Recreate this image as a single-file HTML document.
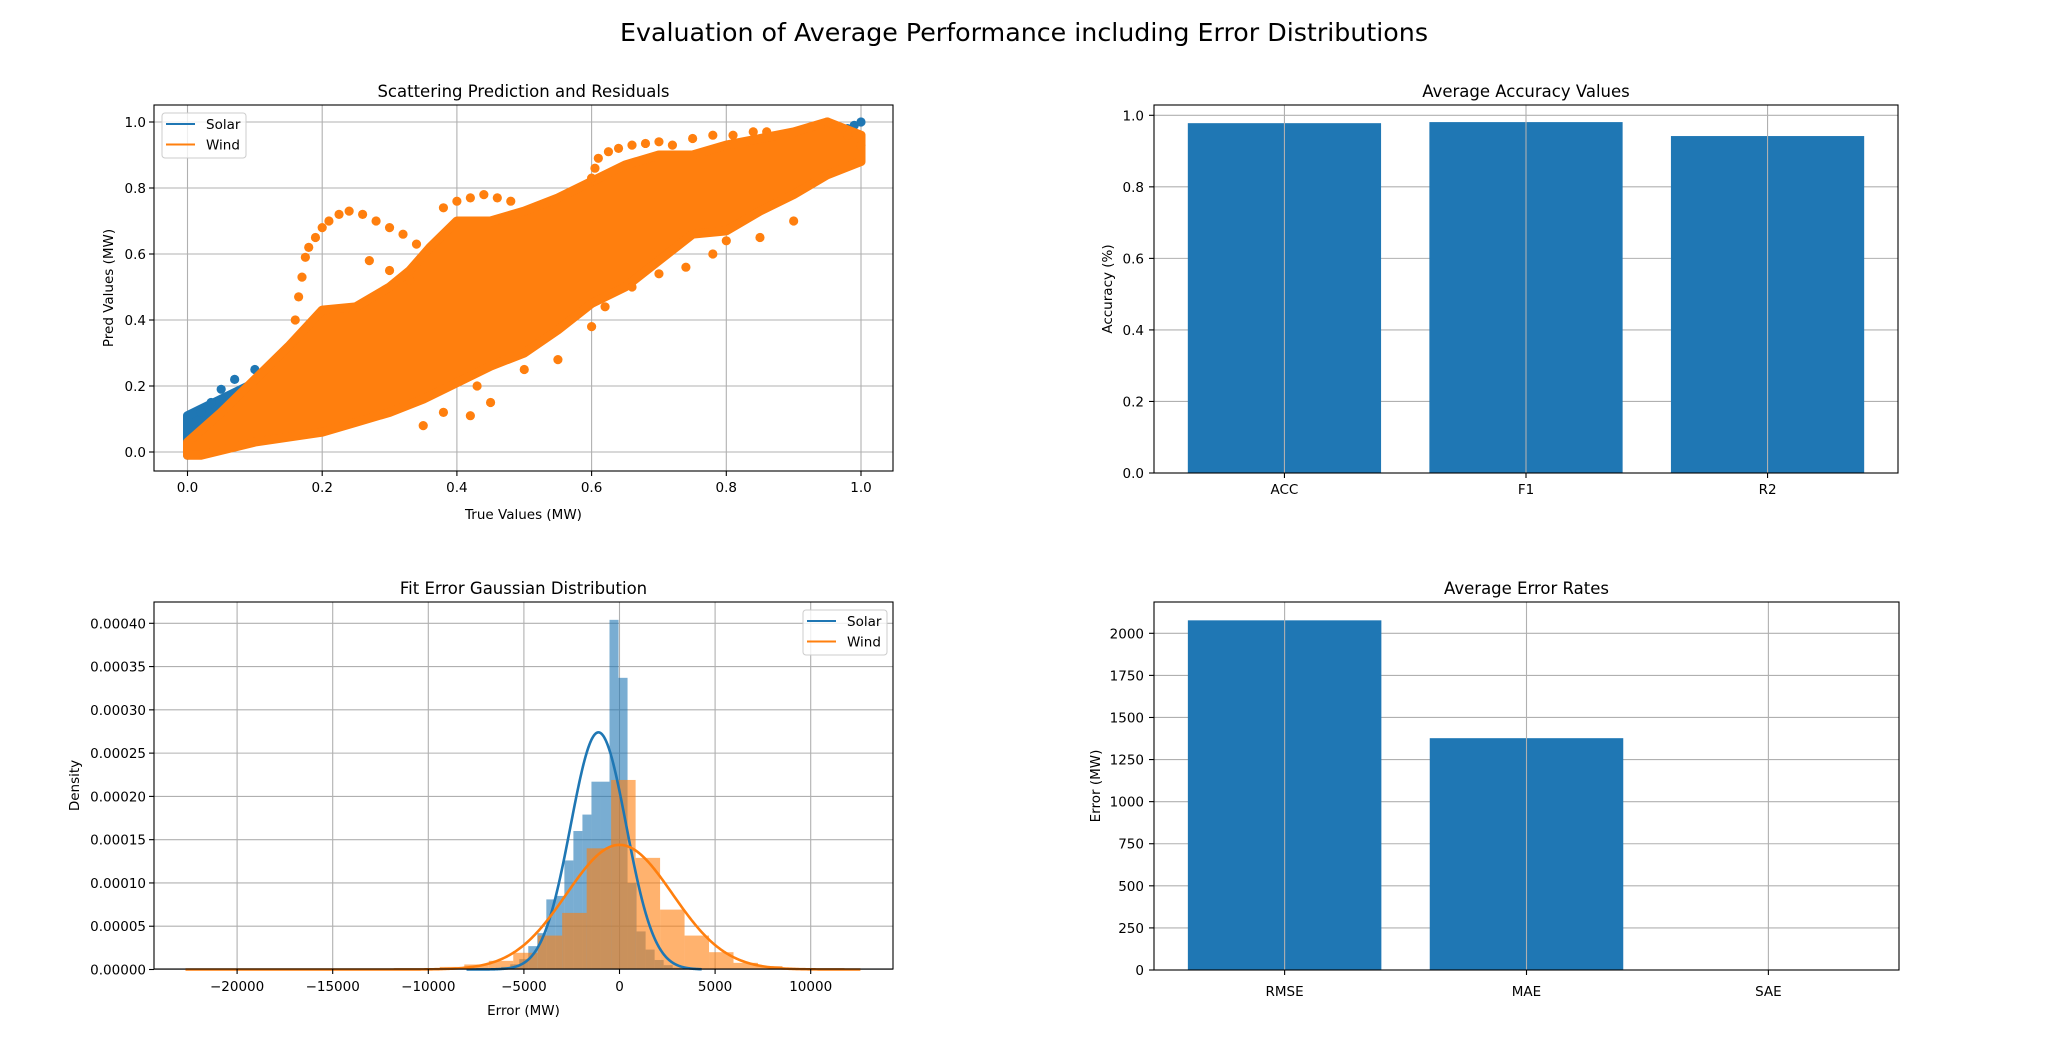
<!DOCTYPE html>
<html><head><meta charset="utf-8">
<style>
html,body{margin:0;padding:0;background:#fff;}
svg text{font-family:"DejaVu Sans","Liberation Sans",sans-serif;fill:#000;}
</style></head>
<body>
<svg id="fig" width="2048" height="1049" viewBox="0 0 2048 1049" xmlns="http://www.w3.org/2000/svg">
<rect width="2048" height="1049" fill="#fff"/>
<text x="1024" y="41" font-size="25" text-anchor="middle" textLength="808" lengthAdjust="spacingAndGlyphs">Evaluation of Average Performance including Error Distributions</text>
</svg>
<script>
// ---------- DATA ----------
const scatterTicks=[0,0.2,0.4,0.6,0.8,1.0];
const scatterTickLabels=["0.0","0.2","0.4","0.6","0.8","1.0"];
const windBandX=[0,0.05,0.1,0.15,0.2,0.25,0.3,0.33,0.36,0.4,0.45,0.5,0.55,0.6,0.65,0.7,0.75,0.8,0.85,0.9,0.95,1,1,0.95,0.9,0.85,0.8,0.75,0.7,0.65,0.6,0.55,0.5,0.45,0.4,0.35,0.3,0.25,0.2,0.1,0.02,0];
const windBandY=[0.03,0.12,0.22,0.32,0.43,0.44,0.5,0.55,0.62,0.7,0.7,0.73,0.77,0.82,0.87,0.9,0.9,0.93,0.95,0.97,1.0,0.96,0.88,0.84,0.78,0.73,0.67,0.66,0.58,0.5,0.45,0.37,0.3,0.26,0.21,0.16,0.12,0.09,0.06,0.03,-0.01,-0.01];
const windPtsX=[0.16,0.165,0.17,0.175,0.18,0.19,0.2,0.21,0.225,0.24,0.26,0.28,0.3,0.32,0.34,0.6,0.605,0.61,0.625,0.64,0.66,0.68,0.7,0.72,0.75,0.78,0.81,0.84,0.86,0.38,0.4,0.42,0.44,0.46,0.48,0.45,0.42,0.38,0.35,0.43,0.5,0.55,0.6,0.62,0.66,0.7,0.74,0.78,0.8,0.85,0.9,0.95,0.98,1.0,0.27,0.3,0.33];
const windPtsY=[0.40,0.47,0.53,0.59,0.62,0.65,0.68,0.70,0.72,0.73,0.72,0.70,0.68,0.66,0.63,0.83,0.86,0.89,0.91,0.92,0.93,0.935,0.94,0.93,0.95,0.96,0.96,0.97,0.97,0.74,0.76,0.77,0.78,0.77,0.76,0.15,0.11,0.12,0.08,0.2,0.25,0.28,0.38,0.44,0.5,0.54,0.56,0.6,0.64,0.65,0.7,1.0,0.96,0.93,0.58,0.55,0.52];
const solarBandX=[0,0.02,0.05,0.09,0.09,0.05,0.02,0];
const solarBandY=[0.11,0.13,0.16,0.2,0.13,0.06,0.02,-0.01];
const solarPtsX=[0.02,0.035,0.05,0.07,0.1,0.0,1.0,0.99,0.98,0.96,0.94,0.92];
const solarPtsY=[0.12,0.15,0.19,0.22,0.25,0.0,1.0,0.99,0.98,0.96,0.95,0.94];

const accCats=["ACC","F1","R2"];
const accVals=[0.978,0.981,0.942];
const accTicks=[0,0.2,0.4,0.6,0.8,1.0];
const accTickLabels=["0.0","0.2","0.4","0.6","0.8","1.0"];

const errCats=["RMSE","MAE","SAE"];
const errVals=[2077,1377,0];
const errTicks=[0,250,500,750,1000,1250,1500,1750,2000];

const histXTicks=[-20000,-15000,-10000,-5000,0,5000,10000];
const histXTickLabels=["\u221220000","\u221215000","\u221210000","\u22125000","0","5000","10000"];
const histYTicks=[0,0.00005,0.0001,0.00015,0.0002,0.00025,0.0003,0.00035,0.0004];
const histYTickLabels=["0.00000","0.00005","0.00010","0.00015","0.00020","0.00025","0.00030","0.00035","0.00040"];
const solarBinStart=-6187;
const solarBinWidth=472;
const solarDensity=[0.000003,0.000006,0.000012,0.000027,0.000042,0.000081,0.000085,0.000126,0.00016,0.000179,0.000217,0.000217,0.000404,0.000337,0.0001,0.000044,0.000023,0.000011,0.000005,0.000002];
const windBinStart=-22197;
const windBinWidth=1280;
const windDensity=[0.0000004,0.0000004,0.0000004,0.0000004,0.0000004,0.0000004,0.0000004,0.0000004,0.0000004,0.000001,0.000003,0.0000058,0.00001,0.0000193,0.0000392,0.0000654,0.00014,0.000219,0.000129,0.0000692,0.0000392,0.00002,0.0000077,0.000004,0.0000015,0.0000008,0.0000003];
const solarMu=-1100, solarSigma=1456, solarFitMin=-8000, solarFitMax=4300;
const windMu=0, windSigma=2770, windFitMin=-22700, windFitMax=12600;

// ---------- HELPERS ----------
const NS="http://www.w3.org/2000/svg";
const svg=document.getElementById('fig');
function mk(tag,attrs,parent){const e=document.createElementNS(NS,tag);for(const k in attrs)e.setAttribute(k,attrs[k]);(parent||svg).appendChild(e);return e;}
function txt(s,attrs,parent){const e=mk('text',attrs,parent);e.textContent=s;return e;}
const BLUE="#1f77b4", ORANGE="#ff7f0e", GRID="#b0b0b0";
function lin(d0,d1,p0,p1){return v=>p0+(v-d0)*(p1-p0)/(d1-d0);}

function axesFrame(g,L,T,R,B){
  const f=mk('rect',{x:L,y:T,width:R-L,height:B-T,fill:'none',stroke:'#000','stroke-width':1.1},g);
  
  
}
function xGrid(g,xs,T,B){xs.forEach(x=>{const l=mk('line',{x1:x,x2:x,y1:T,y2:B,stroke:GRID,'stroke-width':1.1},g);});}
function yGrid(g,ys,L,R){ys.forEach(y=>{const l=mk('line',{x1:L,x2:R,y1:y,y2:y,stroke:GRID,'stroke-width':1.1},g);});}
function xTicks(g,xs,labels,B,ly){xs.forEach((x,i)=>{mk('line',{x1:x,x2:x,y1:B,y2:B+5,stroke:'#000','stroke-width':1.1},g);const t=txt(labels[i],{x:x,y:ly,'font-size':13.5,'text-anchor':'middle'},g);});}
function yTicks(g,ys,labels,L,rx){ys.forEach((y,i)=>{mk('line',{x1:L-5,x2:L,y1:y,y2:y,stroke:'#000','stroke-width':1.1},g);const t=txt(labels[i],{x:rx,y:y+5,'font-size':13.5,'text-anchor':'end'},g);});}
function title(g,s,cx,y){const t=txt(s,{x:cx,y:y,'font-size':16.5,'text-anchor':'middle'},g);}
function xlabel(g,s,cx,y){const t=txt(s,{x:cx,y:y,'font-size':13.5,'text-anchor':'middle'},g);}
function ylabel(g,s,x,cy){const t=txt(s,{x:x,y:cy,'font-size':13.5,'text-anchor':'middle',transform:`rotate(-90 ${x} ${cy})`},g);}
function legend(g,L,T){
  const r=mk('rect',{x:L,y:T,width:84,height:45,rx:3,fill:'#fff','fill-opacity':0.8,stroke:'#ccc','stroke-width':1},g);
  
  [["Solar",BLUE],["Wind",ORANGE]].forEach((e,i)=>{
    const eg=mk('g',{},g);
    
    
    const y=T+11+i*20.5;
    mk('line',{x1:L+4,x2:L+33,y1:y,y2:y,stroke:e[1],'stroke-width':2.1},eg);
    txt(e[0],{x:L+44,y:y+5,'font-size':13.5},eg);
  });
}

// ---------- SCATTER (top-left) ----------
(function(){
  const g=mk('g',{});
  const L=154,R=893,T=105,B=471;
  const X=lin(0,1,187.5,861), Y=lin(0,1,452,122);
  xGrid(g,scatterTicks.map(X),T,B); yGrid(g,scatterTicks.map(Y),L,R);
  const clip=mk('clipPath',{id:'c1'},g);mk('rect',{x:L,y:T,width:R-L,height:B-T},clip);
  const pg=mk('g',{'clip-path':'url(#c1)'},g);
  const sb=mk('polygon',{points:solarBandX.map((x,i)=>X(x)+','+Y(solarBandY[i])).join(' '),fill:BLUE,stroke:BLUE,'stroke-width':9,'stroke-linejoin':'round'},pg);
  
  solarPtsX.forEach((x,i)=>{const c=mk('circle',{cx:X(x),cy:Y(solarPtsY[i]),r:4.6,fill:BLUE},pg);});
  const wb=mk('polygon',{points:windBandX.map((x,i)=>X(x)+','+Y(windBandY[i])).join(' '),fill:ORANGE,stroke:ORANGE,'stroke-width':9,'stroke-linejoin':'round'},pg);
  
  windPtsX.forEach((x,i)=>{const c=mk('circle',{cx:X(x),cy:Y(windPtsY[i]),r:4.6,fill:ORANGE},pg);});
  axesFrame(g,L,T,R,B);
  xTicks(g,scatterTicks.map(X),scatterTickLabels,B,492);
  yTicks(g,scatterTicks.map(Y),scatterTickLabels,L,146);
  title(g,"Scattering Prediction and Residuals",(L+R)/2,97);
  xlabel(g,"True Values (MW)",(L+R)/2,519);
  ylabel(g,"Pred Values (MW)",113,(T+B)/2);
  legend(g,162,113);
})();

// ---------- ACCURACY BARS (top-right) ----------
(function(){
  const g=mk('g',{});
  const L=1154,R=1898,T=105,B=473;
  const X=lin(-0.54,2.54,L,R), Y=lin(0,1,473,115.3);
  yGrid(g,accTicks.map(Y),L,R);
  accVals.forEach((v,i)=>{const b=mk('rect',{x:X(i-0.4),y:Y(v),width:X(i+0.4)-X(i-0.4),height:Y(0)-Y(v),fill:BLUE},g);});
  xGrid(g,accCats.map((c,i)=>X(i)),T,B);
  axesFrame(g,L,T,R,B);
  xTicks(g,accCats.map((c,i)=>X(i)),accCats,B,494);
  yTicks(g,accTicks.map(Y),accTickLabels,L,1144);
  title(g,"Average Accuracy Values",(L+R)/2,97);
  ylabel(g,"Accuracy (%)",1112,(T+B)/2);
})();

// ---------- HISTOGRAM (bottom-left) ----------
(function(){
  const g=mk('g',{});
  const L=154,R=893,T=602,B=969;
  const X=lin(0,10000,619.5,810.7), Y=lin(0,0.0004,969.5,623.3);
  xGrid(g,histXTicks.map(X),T,B); yGrid(g,histYTicks.map(Y),L,R);
  solarDensity.forEach((d,i)=>{const x0=solarBinStart+i*solarBinWidth;const b=mk('rect',{x:X(x0),y:Y(d),width:X(x0+solarBinWidth)-X(x0),height:Y(0)-Y(d),fill:BLUE,'fill-opacity':0.6},g);});
  windDensity.forEach((d,i)=>{const x0=windBinStart+i*windBinWidth;const b=mk('rect',{x:X(x0),y:Y(d),width:X(x0+windBinWidth)-X(x0),height:Y(0)-Y(d),fill:ORANGE,'fill-opacity':0.6},g);});
  function curve(mu,s,a,b,color,name){
    const pts=[];const n=400;
    for(let k=0;k<=n;k++){const v=a+(b-a)*k/n;const d=Math.exp(-0.5*((v-mu)/s)**2)/(s*Math.sqrt(2*Math.PI));pts.push(X(v).toFixed(2)+','+Y(d).toFixed(2));}
    const p=mk('polyline',{points:pts.join(' '),fill:'none',stroke:color,'stroke-width':2.6,'stroke-linejoin':'round'},g);
    
  }
  curve(solarMu,solarSigma,solarFitMin,solarFitMax,BLUE,'solar-gaussian-fit');
  curve(windMu,windSigma,windFitMin,windFitMax,ORANGE,'wind-gaussian-fit');
  axesFrame(g,L,T,R,B);
  xTicks(g,histXTicks.map(X),histXTickLabels,B,991);
  yTicks(g,histYTicks.map(Y),histYTickLabels,L,146);
  title(g,"Fit Error Gaussian Distribution",(L+R)/2,594);
  xlabel(g,"Error (MW)",(L+R)/2,1015);
  ylabel(g,"Density",79,(T+B)/2);
  legend(g,803,610);
})();

// ---------- ERROR BARS (bottom-right) ----------
(function(){
  const g=mk('g',{});
  const L=1154,R=1899,T=602,B=970;
  const X=lin(-0.54,2.54,L,R), Y=lin(0,2000,970,633.3);
  yGrid(g,errTicks.map(Y),L,R);
  errVals.forEach((v,i)=>{const b=mk('rect',{x:X(i-0.4),y:Y(v),width:X(i+0.4)-X(i-0.4),height:Y(0)-Y(v),fill:BLUE},g);});
  xGrid(g,errCats.map((c,i)=>X(i)),T,B);
  axesFrame(g,L,T,R,B);
  xTicks(g,errCats.map((c,i)=>X(i)),errCats,B,996);
  yTicks(g,errTicks.map(Y),errTicks.map(String),L,1144);
  title(g,"Average Error Rates",(L+R)/2,594);
  ylabel(g,"Error (MW)",1100,(T+B)/2);
})();
</script>
</body></html>
